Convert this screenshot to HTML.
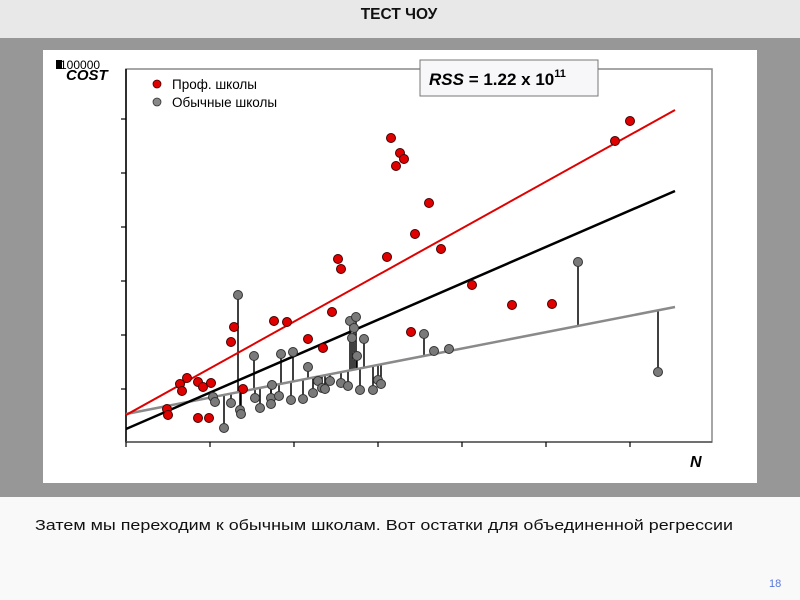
<!DOCTYPE html>
<html><head><meta charset="utf-8"><style>
html,body{margin:0;padding:0;width:800px;height:600px;overflow:hidden;background:#f9f9f9}
svg{display:block}
text{font-family:"Liberation Sans","DejaVu Sans",sans-serif}
</style></head><body>
<svg id="s" width="800" height="600" viewBox="0 0 800 600" xmlns="http://www.w3.org/2000/svg">
<rect x="0" y="0" width="800" height="38" fill="#e8e8e8"/>
<text x="399" y="19" font-size="15.5" font-weight="bold" text-anchor="middle" fill="#111">ТЕСТ ЧОУ</text>
<rect x="0" y="38" width="800" height="459" fill="#979797"/>
<rect x="43" y="50" width="714" height="433" fill="#fff"/>
<rect x="126" y="69" width="586" height="373" fill="none" stroke="#888" stroke-width="1.5"/>
<line x1="126" y1="69" x2="126" y2="442" stroke="#000" stroke-width="1.5"/>
<line x1="126" y1="442" x2="712" y2="442" stroke="#555" stroke-width="1.5"/>
<g stroke="#000" stroke-width="1.2">
<line x1="121" y1="119" x2="126" y2="119"/><line x1="121" y1="173" x2="126" y2="173"/>
<line x1="121" y1="227" x2="126" y2="227"/><line x1="121" y1="281" x2="126" y2="281"/>
<line x1="121" y1="335" x2="126" y2="335"/><line x1="121" y1="389" x2="126" y2="389"/>
<line x1="126" y1="442" x2="126" y2="447"/><line x1="210" y1="442" x2="210" y2="447"/>
<line x1="294" y1="442" x2="294" y2="447"/><line x1="378" y1="442" x2="378" y2="447"/>
<line x1="462" y1="442" x2="462" y2="447"/><line x1="546" y1="442" x2="546" y2="447"/>
<line x1="630" y1="442" x2="630" y2="447"/>
</g>
<rect x="56" y="60" width="6" height="9" fill="#000"/>
<text x="60" y="69" font-size="12" fill="#000">100000</text>
<text x="66" y="80" font-size="15" font-weight="bold" font-style="italic" fill="#000">COST</text>
<circle cx="157" cy="84" r="4" fill="#e00000" stroke="#400" stroke-width="0.8"/>
<text x="172" y="89" font-size="13.5" fill="#000">Проф. школы</text>
<circle cx="157" cy="102" r="4" fill="#888" stroke="#333" stroke-width="0.8"/>
<text x="172" y="107" font-size="13.5" fill="#000">Обычные школы</text>
<rect x="420" y="60" width="178" height="36" fill="#f7f7f9" stroke="#777" stroke-width="1"/>
<text x="429" y="85" font-size="17" font-weight="bold" fill="#000"><tspan font-style="italic">RSS</tspan> = 1.22 x 10<tspan font-size="11" dy="-8">11</tspan></text>
<text x="690" y="467" font-size="16" font-weight="bold" font-style="italic" fill="#000">N</text>
<g id="res" stroke="#000" stroke-width="1.5"></g>
<line x1="126" y1="414" x2="675" y2="307" stroke="#8a8a8a" stroke-width="2.5"/>
<line x1="126" y1="429" x2="675" y2="191" stroke="#000" stroke-width="2.5"/>
<line x1="126" y1="415" x2="675" y2="110" stroke="#e00000" stroke-width="2"/>
<g id="gp" fill="#7a7a7a" stroke="#333" stroke-width="1"></g>
<g id="rp" fill="#e00000" stroke="#400" stroke-width="1"></g>
<text x="35" y="530" font-size="15" fill="#111" textLength="698" lengthAdjust="spacingAndGlyphs">Затем мы переходим к обычным школам. Вот остатки для объединенной регрессии</text>
<text x="769" y="587" font-size="11" fill="#5577dd">18</text>
</svg>
<script>
var NS="http://www.w3.org/2000/svg";
var red=[[167,409],[168,415],[180,384],[182,391],[187,378],[198,382],[203,387],[211,383],[198,418],[209,418],[231,342],[234,327],[243,389],[274,321],[287,322],[308,339],[323,348],[332,312],[338,259],[341,269],[387,257],[391,138],[396,166],[400,153],[404,159],[411,332],[415,234],[429,203],[441,249],[472,285],[512,305],[552,304],[615,141],[630,121]];
var gray=[[238,295],[254,356],[224,428],[213,397],[215,402],[231,403],[240,410],[241,414],[255,398],[260,408],[271,398],[271,404],[272,385],[279,396],[281,354],[291,400],[293,352],[303,399],[308,367],[313,393],[318,381],[322,388],[325,389],[330,381],[341,383],[348,386],[350,321],[352,338],[354,328],[356,317],[357,356],[360,390],[364,339],[373,390],[378,380],[381,384],[424,334],[434,351],[449,349],[578,262],[658,372]];
function gl(x){return 414-(x-126)*107/549;}
var res=document.getElementById('res'),gp=document.getElementById('gp'),rp=document.getElementById('rp');
gray.forEach(function(p){var l=document.createElementNS(NS,'line');l.setAttribute('x1',p[0]);l.setAttribute('x2',p[0]);l.setAttribute('y1',p[1]);l.setAttribute('y2',gl(p[0]));res.appendChild(l);
var c=document.createElementNS(NS,'circle');c.setAttribute('cx',p[0]);c.setAttribute('cy',p[1]);c.setAttribute('r',4.5);gp.appendChild(c);});
red.forEach(function(p){var c=document.createElementNS(NS,'circle');c.setAttribute('cx',p[0]);c.setAttribute('cy',p[1]);c.setAttribute('r',4.5);rp.appendChild(c);});
</script>
</body></html>
